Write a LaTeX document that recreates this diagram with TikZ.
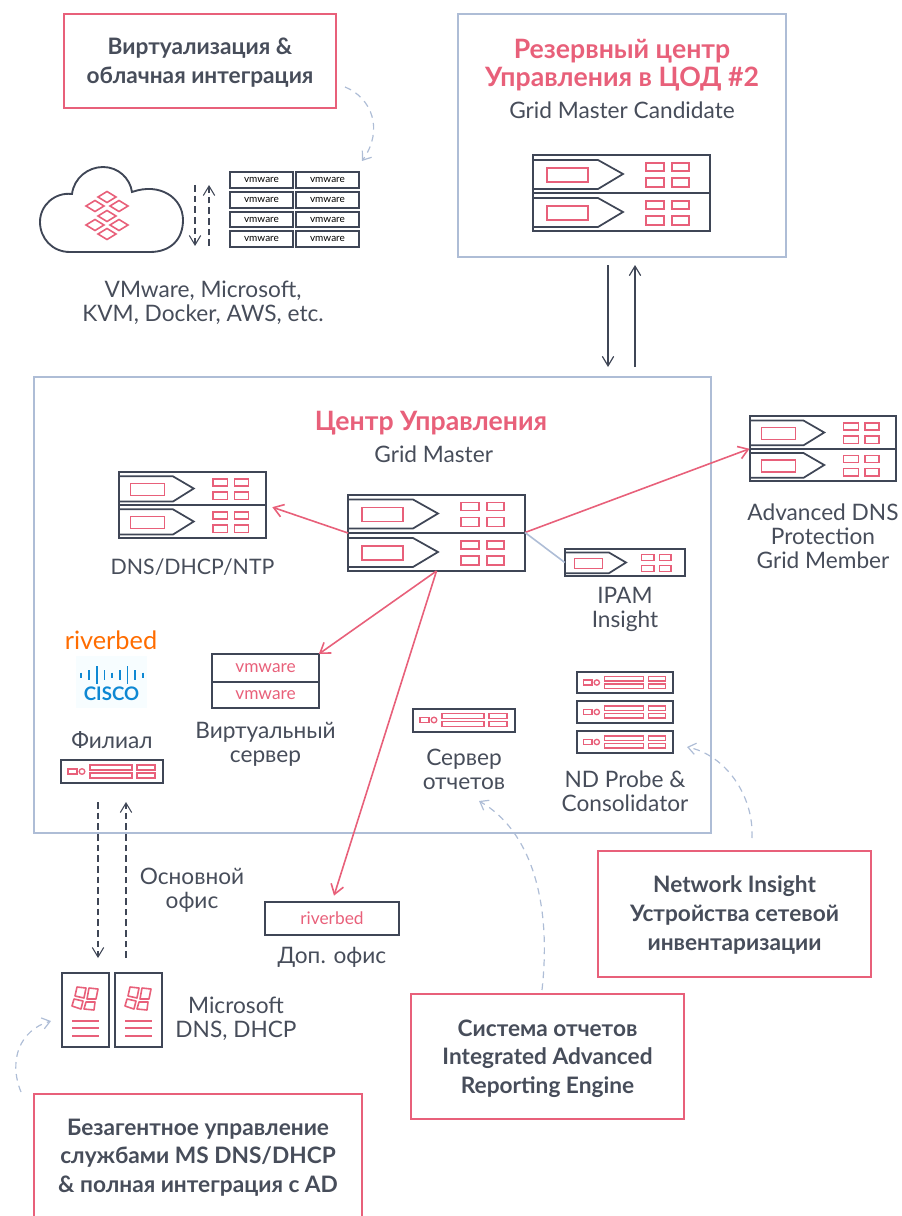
\documentclass[tikz,border=0pt]{standalone}
\usepackage{fontspec}
\setmainfont{Lato}
\usepackage{tikz}
\usetikzlibrary{arrows.meta, positioning}

\definecolor{rosered}{HTML}{E8607A}
\definecolor{slatedark}{HTML}{3F4656}
\definecolor{slatetext}{HTML}{474D5A}
\definecolor{paleblue}{HTML}{AEBDD6}

\tikzset{
	bladeunit/.pic={
		\draw[iconline] (0,5) -- (65,5) -- (90,19) -- (65,34) -- (0,34);
		\draw[pinkline] (14,13) rectangle (55,27);
		\draw[pinkline] (113,8) rectangle (131,16);
		\draw[pinkline] (139,8) rectangle (156,16);
		\draw[pinkline] (113,23) rectangle (131,32);
		\draw[pinkline] (139,23) rectangle (156,32);
	},
	miniunit/.pic={
		\draw[pinkline] (7,9) rectangle (16,14);
		\draw[pinkline] (21,11.5) circle[radius=2.8];
		\draw[pinkline] (29,5) rectangle (71,10);
		\draw[pinkline] (29,13) rectangle (71,18);
		\draw[pinkline] (76,5) rectangle (94,10);
		\draw[pinkline] (76,13) rectangle (94,18);
	},
	winunit/.pic={
		\draw[pinkline, line width=1.2pt, line join=round] (15,14) -- (24,15) -- (22,25) -- (13,23) -- cycle;
		\draw[pinkline, line width=1.2pt, line join=round] (27,15) -- (36,16) -- (34,26) -- (25,26) -- cycle;
		\draw[pinkline, line width=1.2pt, line join=round] (12,26) -- (21,28) -- (19,36) -- (10,33) -- cycle;
		\draw[pinkline, line width=1.2pt, line join=round] (24,29) -- (33,29) -- (32,37) -- (22,36) -- cycle;
		\foreach \liney in {48,55,63}
			\draw[pinkline, line width=1.2pt] (10,\liney) -- (37,\liney);
	}
}

% a server unit: name, centre x, centre y, width scale, height scale
\newcommand{\bladeserver}[5]{
	\node[unitframe, minimum width=#4*132.75pt, minimum height=#5*28.5pt] (#1) at (#2,#3) {};
	\pic[xscale=#4, yscale=#5] at (#1.north west) {bladeunit};
}
\newcommand{\miniserver}[4]{
	\node[unitframe, minimum width=#4*76.5pt, minimum height=#4*17.25pt] (#1) at (#2,#3) {};
	\pic[scale=#4] at (#1.north west) {miniunit};
}

\begin{document}
\begin{tikzpicture}[
		x=0.75pt, y=-0.75pt,
		iconline/.style={draw=slatedark, line width=1.3pt},
		pinkline/.style={draw=rosered, line width=1pt},
		unitframe/.style={
			rectangle,
			draw=slatedark,
			line width=1.5pt,
			inner sep=0pt,
			outer sep=0pt
		},
		notebox/.style={
			rectangle,
			draw=rosered,
			line width=1.2pt
		},
		notetext/.style={
			align=center,
			text=slatetext,
			inner sep=0pt,
			font=\fontsize{17}{21.5}\selectfont\bfseries
		},
		zonebox/.style={
			rectangle,
			draw=paleblue,
			line width=0.9pt
		},
		caption/.style={
			align=center,
			text=slatetext,
			inner sep=0pt,
			font=\fontsize{17}{18}\selectfont
		},
		zonetitle/.style={
			align=center,
			text=rosered,
			inner sep=0pt,
			font=\fontsize{20}{21}\selectfont\bfseries
		},
		flow/.style={
			draw=slatedark,
			line width=0.9pt,
			-{Straight Barb[length=2.5mm, width=3mm]}
		},
		dashflow/.style={
			flow,
			line width=0.8pt,
			dash pattern=on 5pt off 3pt
		},
		link/.style={
			draw=rosered,
			line width=1.2pt,
			-{Straight Barb[length=2.5mm, width=3.4mm]}
		},
		notearrow/.style={
			draw=paleblue,
			line width=0.9pt,
			dash pattern=on 5pt off 4pt,
			-{Straight Barb[length=2mm, width=3mm]}
		}
	]
	\useasboundingbox (0,0) rectangle (902,1216);

	% note boxes and zones
	\node[notebox, minimum width=204pt, minimum height=70.5pt] (virtbox) at (200,61) {};
	\node[notetext] (virttext) at (200,63) {Виртуализация \&\\облачная интеграция};
	\node[zonebox, minimum width=246pt, minimum height=182.25pt] (backupzone) at (622,135.5) {};
	\node[zonebox, minimum width=507.75pt, minimum height=342pt] (mainzone) at (372.5,605) {};
	\node[notebox, minimum width=204.75pt, minimum height=94.5pt] (insightbox) at (734.5,914) {};
	\node[notetext] (insighttext) at (734.5,915) {Network Insight\\Устройства сетевой\\инвентаризации};
	\node[notebox, minimum width=204.75pt, minimum height=93.75pt] (reportbox) at (547.5,1056.5) {};
	\node[notetext] (reporttext) at (547.5,1058.5) {Система отчетов\\Integrated Advanced\\Reporting Engine};
	\node[notebox, minimum width=246pt, minimum height=97.5pt] (agentbox) at (198,1159) {};
	\node[notetext] (agenttext) at (198,1157.5) {Безагентное управление\\службами MS DNS/DHCP\\\& полная интеграция с AD};

	% zone titles
	\node[zonetitle] (backuptitle) at (622,65) {Резервный центр\\Управления в ЦОД \#2};
	\node[caption, below=8pt of backuptitle] (backupcap) {Grid Master Candidate};
	\node[zonetitle] (maintitle) at (431,423) {Центр Управления};
	\node[caption, below=8pt of maintitle, xshift=2pt] (maincap) {Grid Master};

	% cloud and vmware stack
	\node[inner sep=0pt, minimum size=1pt] (cloud) at (111,210) {};
	\draw[iconline, line width=1.4pt] (70,252) .. controls (52,252) and (40,238) .. (40,222)
		.. controls (40,205) and (55,192) .. (72,194)
		.. controls (74,178) and (88,167) .. (103,167)
		.. controls (118,167) and (130,178) .. (132,192)
		.. controls (160,182) and (183,198) .. (183,220)
		.. controls (183,240) and (170,252) .. (150,252) -- cycle;
	\foreach \dx/\dy in {107/197, 95/206, 119/206, 107/216, 95/225, 119/225, 107/234}
		\draw[pinkline, line width=1.2pt] (\dx-9,\dy) -- (\dx,\dy-5.5) -- (\dx+9,\dy) -- (\dx,\dy+5.5) -- cycle;
	\foreach \cx/\col in {261.5/a, 327.5/b}
		\foreach \cy/\row in {180/1, 200/2, 219.5/3, 239/4}
			\node[unitframe, minimum width=47.5pt, minimum height=11.5pt, text=black, font=\fontsize{7.5}{8}\selectfont] (vm\col\row) at (\cx,\cy) {vmware};
	\coordinate (cldownA) at (195,185);
	\coordinate (cldownB) at (195,246);
	\coordinate (clupA) at (209,246);
	\coordinate (clupB) at (209,185);
	\draw[dashflow] (cldownA) -- (cldownB);
	\draw[dashflow] (clupA) -- (clupB);
	\node[caption] (cloudcap) at (203,303) {VMware, Microsoft,\\KVM, Docker, AWS, etc.};

	% servers
	\bladeserver{backupA}{621.5}{174}{1}{1}
	\bladeserver{backupB}{621.5}{212}{1}{1}
	\bladeserver{gmA}{436.5}{513.5}{1}{1}
	\bladeserver{gmB}{436.5}{552}{1}{1}
	\bladeserver{dnsA}{192.5}{488.5}{.83}{.868}
	\bladeserver{dnsB}{192.5}{521.5}{.83}{.868}
	\bladeserver{advA}{823}{432.5}{.83}{.855}
	\bladeserver{advB}{823}{465}{.83}{.855}
	\bladeserver{ipam}{625}{562.5}{.68}{.71}

	\node[caption, below=15.5pt of dnsB, font=\fontsize{16}{18}\selectfont] (dnscap) {DNS/DHCP/NTP};
	\node[caption, below=16.5pt of advB] (advcap) {Advanced DNS\\Protection\\Grid Member};
	\node[caption, below=8pt of ipam] (ipamcap) {IPAM\\Insight};

	% virtual server
	\node[unitframe, minimum width=80pt, minimum height=21pt, text=rosered, font=\fontsize{13}{14}\selectfont] (vsrvA) at (265.5,668) {vmware};
	\node[unitframe, minimum width=80pt, minimum height=19.5pt, text=rosered, font=\fontsize{13}{14}\selectfont, below=0pt of vsrvA] (vsrvB) {vmware};
	\node[caption, below=10.5pt of vsrvB] (vsrvcap) {Виртуальный\\сервер};

	% branch
	\node[inner sep=0pt, text=orange!85!red, font=\fontsize{19}{20}\selectfont] (riverlogo) at (111,640) {riverbed};
	\node[inner sep=0pt, fill=cyan!3, minimum width=53pt, minimum height=39pt] (ciscopad) at (111.5,682) {};
	\foreach \bx/\bh in {81/2.5, 89/5, 97/9, 104.5/5, 112/2.5, 120/5, 127.5/9, 135/5, 143/2.5}
		\draw[draw=cyan!70!blue, line width=1.3pt] (\bx,675-\bh) -- (\bx,675+\bh);
	\node[inner sep=0pt, text=cyan!70!blue, font=\fontsize{14}{15}\selectfont\bfseries] (ciscologo) at (111.5,694) {CISCO};
	\node[caption] (branchcap) at (112,740) {Филиал};
	\miniserver{branch}{112}{771.5}{1}

	% report and probes
	\miniserver{report}{464}{720}{1}
	\node[caption, below=13pt of report] (reportcap) {Сервер\\отчетов};
	\miniserver{probeA}{625}{682.5}{.94}
	\miniserver{probeB}{625}{712}{.94}
	\miniserver{probeC}{625}{742}{.94}
	\node[caption, below=13pt of probeC] (probecap) {ND Probe \&\\Consolidator};

	% remote office
	\node[unitframe, minimum width=100.5pt, minimum height=24.75pt, text=rosered, font=\fontsize{13}{14}\selectfont] (rivbox) at (332,918.5) {riverbed};
	\node[caption, below=9pt of rivbox] (rivcap) {Доп. офис};

	% microsoft
	\node[unitframe, minimum width=35.25pt, minimum height=55.5pt] (msA) at (85.5,1010) {};
	\node[unitframe, minimum width=35.25pt, minimum height=55.5pt] (msB) at (138.5,1010) {};
	\pic at (msA.north west) {winunit};
	\pic at (msB.north west) {winunit};
	\node[caption] (mscap) at (236,1018.5) {Microsoft\\DNS, DHCP};

	% links
	\coordinate (backdownA) at (608,265);
	\coordinate (backdownB) at (608,367);
	\coordinate (backupA) at (635,367);
	\coordinate (backupB) at (635,265);
	\draw[flow] (backdownA) -- (backdownB);
	\draw[flow] (backupA) -- (backupB);
	\draw[link, shorten >=5pt] (gmB.north west) -- (dnsB.north east);
	\draw[link] (gmA.south east) -- (advB.north west);
	\draw[link] (gmB.south) -- (vsrvA.north east);
	\draw[link, shorten >=5pt] (gmB.south) -- (rivbox.north);
	\draw[draw=paleblue, line width=1.2pt] (gmA.south east) -- (ipam.west);

	\coordinate (branchdownA) at (98,802);
	\coordinate (branchdownB) at (98,958);
	\coordinate (branchupA) at (126,958);
	\coordinate (branchupB) at (126,802);
	\draw[dashflow] (branchdownA) -- (branchdownB);
	\draw[dashflow] (branchupA) -- (branchupB);
	\node[caption] (officecap) at (192,890) {Основной\\офис};

	% note arrows
	\coordinate (virtfrom) at (345,87);
	\coordinate (virtto) at (362,161);
	\coordinate (insightfrom) at (752,838);
	\coordinate (insightto) at (687,747);
	\coordinate (reportfrom) at (542,990);
	\coordinate (reportto) at (479,801);
	\coordinate (agentfrom) at (21,1092);
	\coordinate (agentto) at (51,1021);
	\draw[notearrow] (virtfrom) .. controls (372,98) and (384,130) .. (virtto);
	\draw[notearrow] (insightfrom) .. controls (754,795) and (725,755) .. (insightto);
	\draw[notearrow] (reportfrom) .. controls (552,900) and (530,830) .. (reportto);
	\draw[notearrow] (agentfrom) .. controls (8,1060) and (20,1030) .. (agentto);

	\end{tikzpicture}
\end{document}
